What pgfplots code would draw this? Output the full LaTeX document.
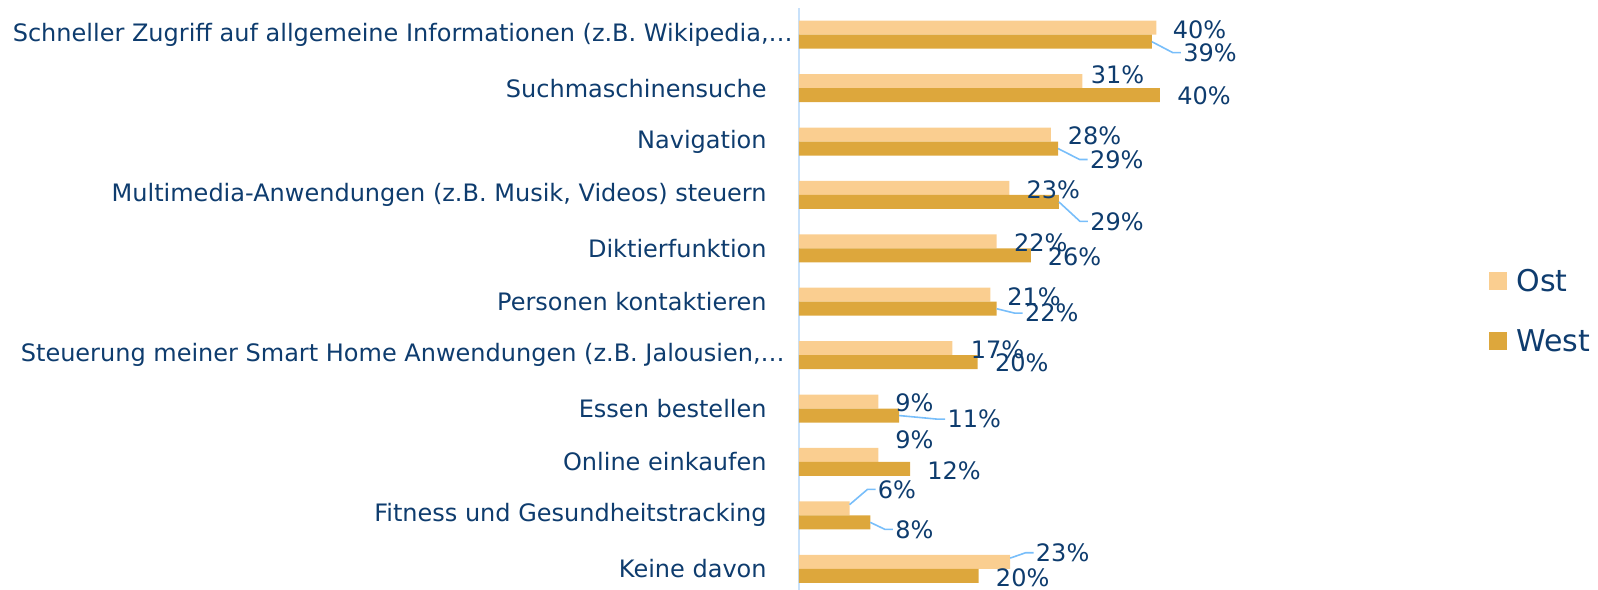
\documentclass[border=0pt]{standalone}
\usepackage{pgfplots}
\pgfplotsset{compat=1.18}
\usepackage{pgfplotstable}
\usepackage{fontspec}
\setmainfont{DejaVu Sans}

\definecolor{ost}{HTML}{FACE90}
\definecolor{west}{HTML}{DDA73C}
\definecolor{txt}{HTML}{0E3C6E}
\definecolor{lead}{HTML}{78BEFA}
\definecolor{axl}{HTML}{C8E1FA}

\newcommand\gap{\hspace*{13pt}}

% y = position (10 = top), x = share in %, dx/dy = label offset from category centre (pt)
\pgfplotstableread{
y  x    dx   dy
10 39.6 8.0   2.5
9  31.4 4.0   6.8
8  27.9 8.3   2.7
7  23.3 8.5   2.7
6  21.9 8.5   3.0
5  21.2 8.3   2.7
4  17.0 9.0   2.7
3  8.8  8.3   3.0
2  8.8  8.3  11.0
1  5.6  14.0 13.0
0  23.4 12.7  8.0
}\tabost

\pgfplotstableread{
y  x    dx   dy
10 39.1 15.5 -9.0
9  40.0 8.5  -4.0
8  28.7 15.8 -9.0
7  28.8 15.5 -13.2
6  25.7 8.3  -4.3
5  21.9 14.0 -5.7
4  19.8 8.5  -4.0
3  11.1 24.0 -5.3
2  12.3 8.5  -4.3
1  7.9  12.3 -7.0
0  19.9 8.5  -4.3
}\tabwest

\pgfplotsset{
    pctlabels/.style={
        point meta=x,
        nodes near coords={\pgfmathprintnumber[fixed,precision=0,assume math mode=true]{\pgfplotspointmeta}\%},
        visualization depends on={\thisrow{dx}\as\ldx},
        visualization depends on={\thisrow{dy}\as\ldy},
        every node near coord/.append style={anchor=west, inner sep=0pt,
            font=\fontsize{12}{14}\selectfont, text=txt,
            xshift={\ldx*1pt}, yshift={\ldy*1pt}},
    },
}

\begin{document}
\begin{tikzpicture}
\begin{axis}[
    scale only axis,
    width=203.06pt, height=290.8pt,
    xmin=0, xmax=45, ymin=-0.39, ymax=10.5,
    hide x axis,
    axis y line*=left,
    y axis line style={draw=axl, line width=1pt, -},
    ytick={0,...,10},
    yticklabels={
        {Keine davon\gap},
        {Fitness und Gesundheitstracking\gap},
        {Online einkaufen\gap},
        {Essen bestellen\gap},
        {Steuerung meiner Smart Home Anwendungen (z.B. Jalousien,…\hspace*{4pt}},
        {Personen kontaktieren\gap},
        {Diktierfunktion\gap},
        {Multimedia-Anwendungen (z.B. Musik, Videos) steuern\gap},
        {Navigation\gap},
        {Suchmaschinensuche\gap},
        {Schneller Zugriff auf allgemeine Informationen (z.B. Wikipedia,…}
    },
    major tick length=0pt,
    yticklabel style={anchor=east, inner sep=0pt, xshift=-3pt,
        font=\fontsize{12}{14}\selectfont, text=txt},
    legend style={at={(1.699,0.477)}, anchor=west, draw=none, fill=none,
        font=\fontsize{15}{18}\selectfont, text=txt, inner sep=0pt,
        row sep=17.5pt, column sep=4.5pt, nodes={inner sep=0pt},
        cells={anchor=west}},
    legend image code/.code={\fill[#1] (0pt,-4pt) rectangle (9pt,5pt);},
    clip=false,
]
\addplot[xbar, bar width=7pt, fill=ost, draw=none, bar shift=3.5pt, pctlabels]
    table[x=x, y=y] {\tabost};
\addlegendentry{Ost}
\addplot[xbar, bar width=7pt, fill=west, draw=none, bar shift=-3.5pt, pctlabels]
    table[x=x, y=y] {\tabwest};
\addlegendentry{West}
% leader lines from bar ends to the moved labels
\addplot[sharp plot, no marks, draw=lead, line width=0.8pt, unbounded coords=jump, forget plot]
    coordinates {
    (39.1,9.869) (41.43,9.663) (42.31,9.663) (nan,nan)
    (28.7,7.869) (31.09,7.663) (31.98,7.663) (nan,nan)
    (28.8,6.869) (31.13,6.506) (32.01,6.506) (nan,nan)
    (21.9,4.869) (23.89,4.787) (24.78,4.787) (nan,nan)
    (11.1,2.869) (15.31,2.802) (16.20,2.802) (nan,nan)
    (7.9,0.869) (9.52,0.738) (10.40,0.738) (nan,nan)
    (5.6,1.200) (7.59,1.487) (8.48,1.487) (nan,nan)
    (23.4,0.200) (25.11,0.300) (25.99,0.300)
    };
\end{axis}
\pgfresetboundingbox
\path[use as bounding box] (current axis.south west) ++(-399.5pt,0pt) rectangle ++(799pt,294.8pt);
\end{tikzpicture}
\end{document}
